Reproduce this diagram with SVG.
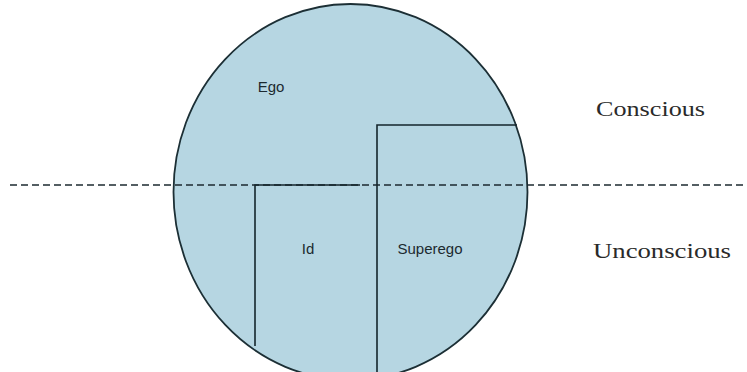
<svg xmlns="http://www.w3.org/2000/svg" width="747" height="372" viewBox="0 0 747 372">
<style>
.sans{font-family:"Liberation Sans",Arial,sans-serif;font-size:15px;fill:#1c2a30}
.serif{font-family:"Liberation Serif","Times New Roman",serif;font-size:20px;fill:#2a2a2a}
.ln{stroke:#14262c;stroke-width:1.6;fill:none}
</style>
<rect width="747" height="372" fill="#ffffff"/>
<g id="psyche">
<ellipse cx="350.5" cy="192" rx="177" ry="188" fill="#b6d6e2" stroke="#1c2f35" stroke-width="1.8"/>
</g>
<g id="connectors">
<line x1="10" y1="185" x2="747" y2="185" stroke="#1c2a30" stroke-width="1.6" stroke-dasharray="7,4"/>
</g>
<g id="ego"><text class="sans" x="271" y="92" text-anchor="middle">Ego</text></g>
<g id="id">
<polyline class="ln" points="255,346 255,185 360,185"/>
<text class="sans" x="308" y="254" text-anchor="middle">Id</text>
</g>
<g id="superego">
<polyline class="ln" points="377,372 377,125 517,125"/>
<text class="sans" x="430" y="254" text-anchor="middle">Superego</text>
</g>
<g id="conscious"><text class="serif" x="596" y="116" textLength="109" lengthAdjust="spacingAndGlyphs">Conscious</text></g>
<g id="unconscious"><text class="serif" x="593" y="258" textLength="138" lengthAdjust="spacingAndGlyphs">Unconscious</text></g>
</svg>
